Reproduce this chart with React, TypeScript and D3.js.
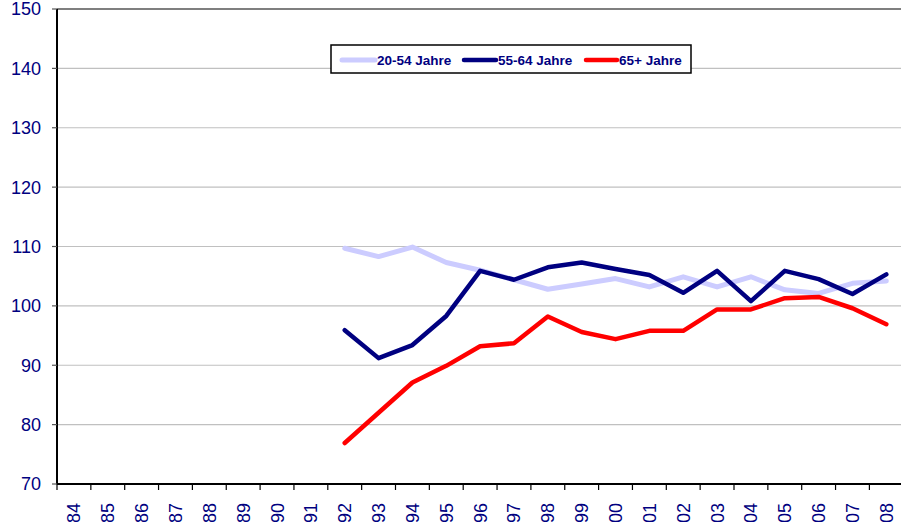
import React, { useEffect, useRef } from "react";
import * as d3 from "d3";

// categories on the x axis (all years shown as ticks)
const years = [
  "1984", "1985", "1986", "1987", "1988", "1989", "1990", "1991", "1992",
  "1993", "1994", "1995", "1996", "1997", "1998", "1999", "2000", "2001",
  "2002", "2003", "2004", "2005", "2006", "2007", "2008",
];

// years where the series have values
const dataYears = [
  "1992", "1993", "1994", "1995", "1996", "1997", "1998", "1999", "2000",
  "2001", "2002", "2003", "2004", "2005", "2006", "2007", "2008",
];

const age20to54 = [
  109.7, 108.3, 109.9, 107.3, 106.0, 104.4, 102.8, 103.7, 104.6,
  103.2, 104.9, 103.2, 104.9, 102.7, 102.1, 103.8, 104.2,
];
const age55to64 = [
  95.9, 91.2, 93.4, 98.3, 105.9, 104.4, 106.5, 107.3, 106.2,
  105.2, 102.2, 105.9, 100.8, 105.9, 104.5, 102.0, 105.3,
];
const age65plus = [
  76.9, 82.0, 87.1, 89.9, 93.2, 93.7, 98.2, 95.6, 94.4,
  95.8, 95.8, 99.4, 99.4, 101.3, 101.5, 99.6, 96.9,
];

const yTicks = [70, 80, 90, 100, 110, 120, 130, 140, 150];

const seriesNames = ["20-54 Jahre", "55-64 Jahre", "65+ Jahre"];
const seriesColors = ["#ccccff", "#000080", "#ff0000"];
const seriesWidths = [5, 4.5, 4.5];

const W = 901;
const H = 522;
const textColor = "#000080";

export default function App() {
  const svgRef = useRef<SVGSVGElement>(null);

  useEffect(() => {
    const svg = d3.select(svgRef.current);
    svg.selectAll("*").remove();

    const left = 57;
    const band = 33.85;
    const x = d3.scaleBand().domain(years).range([left, left + band * years.length]);
    const y = d3.scaleLinear().domain([70, 150]).range([484, 9]);
    const right = left + band * years.length;

    // gridlines
    svg.append("g")
      .selectAll("line")
      .data(yTicks.filter((t) => t !== 70 && t !== 150))
      .enter()
      .append("line")
      .attr("x1", left)
      .attr("x2", right)
      .attr("y1", (d) => y(d))
      .attr("y2", (d) => y(d))
      .attr("stroke", "#c0c0c0")
      .attr("stroke-width", 1.2);

    // top border
    svg.append("line")
      .attr("x1", left).attr("x2", right)
      .attr("y1", y(150)).attr("y2", y(150))
      .attr("stroke", "#000").attr("stroke-width", 1.2);

    // y axis
    const yAxis = svg.append("g");
    yAxis.append("line")
      .attr("x1", left).attr("x2", left)
      .attr("y1", y(150)).attr("y2", y(70))
      .attr("stroke", "#000").attr("stroke-width", 2);
    yAxis.selectAll(".tick")
      .data(yTicks)
      .enter()
      .append("line")
      .attr("x1", left - 5).attr("x2", left)
      .attr("y1", (d) => y(d)).attr("y2", (d) => y(d))
      .attr("stroke", "#555").attr("stroke-width", 1.2);
    yAxis.selectAll("text")
      .data(yTicks)
      .enter()
      .append("text")
      .attr("x", 41)
      .attr("y", (d) => y(d))
      .attr("dy", "0.36em")
      .attr("text-anchor", "end")
      .attr("font-family", "Arial, 'Liberation Sans', sans-serif")
      .attr("font-size", 18)
      .attr("fill", textColor)
      .text((d) => d);

    // x axis
    const xAxis = svg.append("g");
    xAxis.append("line")
      .attr("x1", left).attr("x2", right)
      .attr("y1", y(70)).attr("y2", y(70))
      .attr("stroke", "#000").attr("stroke-width", 2);
    xAxis.selectAll(".tick")
      .data(years.concat(["end"]))
      .enter()
      .append("line")
      .attr("x1", (d, i) => left + i * x.bandwidth())
      .attr("x2", (d, i) => left + i * x.bandwidth())
      .attr("y1", y(70)).attr("y2", y(70) + 6)
      .attr("stroke", "#000").attr("stroke-width", 1.2);
    xAxis.selectAll("text")
      .data(years)
      .enter()
      .append("text")
      .attr("transform", (d) => `translate(${x(d)! + x.bandwidth() / 2}, 503) rotate(-90)`)
      .attr("dy", "0.36em")
      .attr("text-anchor", "end")
      .attr("font-family", "Arial, 'Liberation Sans', sans-serif")
      .attr("font-size", 18)
      .attr("fill", textColor)
      .text((d) => d);

    // lines
    const allSeries = [age20to54, age55to64, age65plus];
    const line = d3.line<number>()
      .x((d, i) => x(dataYears[i])! + x.bandwidth() / 2)
      .y((d) => y(d));

    allSeries.forEach((s, k) => {
      svg.append("path")
        .datum(s)
        .attr("fill", "none")
        .attr("stroke", seriesColors[k])
        .attr("stroke-width", seriesWidths[k])
        .attr("stroke-linejoin", "round")
        .attr("stroke-linecap", "round")
        .attr("d", line);
    });

    // legend
    const legend = svg.append("g");
    legend.append("rect")
      .attr("x", 331).attr("y", 45)
      .attr("width", 360).attr("height", 28)
      .attr("fill", "#fff")
      .attr("stroke", "#000").attr("stroke-width", 1.5);
    const itemX = [342, 464, 586];
    const lineLen = [33, 32, 31];
    seriesNames.forEach((name, k) => {
      legend.append("line")
        .attr("x1", itemX[k]).attr("x2", itemX[k] + lineLen[k])
        .attr("y1", 60).attr("y2", 60)
        .attr("stroke", seriesColors[k])
        .attr("stroke-width", seriesWidths[k])
        .attr("stroke-linecap", "round");
      legend.append("text")
        .attr("x", itemX[k] + lineLen[k] + 2)
        .attr("y", 60)
        .attr("dy", "0.36em")
        .attr("font-family", "Arial, 'Liberation Sans', sans-serif")
        .attr("font-weight", "bold")
        .attr("font-size", 13.5)
        .attr("fill", textColor)
        .text(name);
    });
  }, []);

  return (
    <svg
      ref={svgRef}
      width={W}
      height={H}
      style={{ position: "absolute", left: 0, top: 0, background: "#fff" }}
    />
  );
}
